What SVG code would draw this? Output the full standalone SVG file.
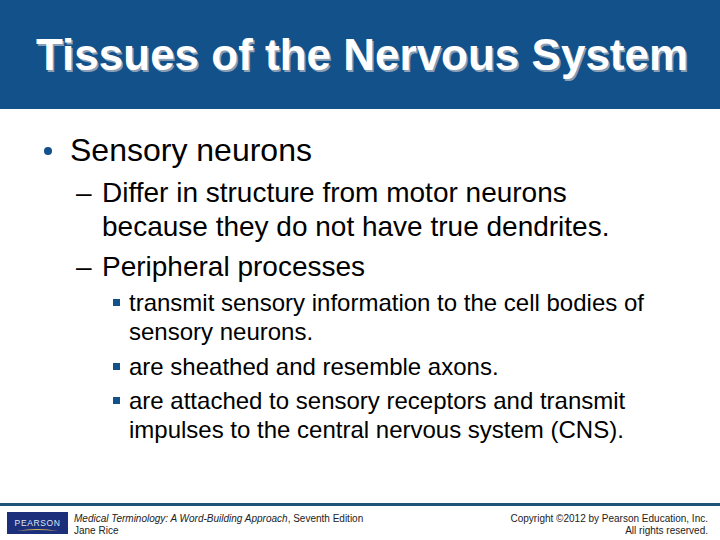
<svg xmlns="http://www.w3.org/2000/svg" width="720" height="540" viewBox="0 0 720 540">
<style>
text{font-family:"Liberation Sans",Arial,sans-serif;fill:#000}
.t{font-size:44px;font-weight:bold}
.l1{font-size:32px}
.l2{font-size:28px}
.l3{font-size:24px}
.f{font-size:10px;fill:#222}
.b{fill:#13518a}
</style>
<rect width="720" height="540" fill="#fff"/>
<rect width="720" height="109" fill="#13518a"/>
<text class="t" x="37.500" y="71.500" style="fill:#8a9fb5">Tissues of the Nervous System</text>
<text class="t" x="36" y="70" style="fill:#fff">Tissues of the Nervous System</text>
<circle class="b" cx="48" cy="151" r="4"/>
<text class="l1" x="70" y="161">Sensory neurons</text>
<text class="l2" x="76" y="202">–</text>
<text class="l2" x="102" y="202">Differ in structure from motor neurons</text>
<text class="l2" x="102" y="236">because they do not have true dendrites.</text>
<text class="l2" x="76" y="276">–</text>
<text class="l2" x="102" y="276">Peripheral processes</text>
<rect class="b" x="113" y="299" width="7" height="7"/>
<text class="l3" x="129" y="311">transmit sensory information to the cell bodies of</text>
<text class="l3" x="129" y="340">sensory neurons.</text>
<rect class="b" x="113" y="363" width="7" height="7"/>
<text class="l3" x="129" y="375">are sheathed and resemble axons.</text>
<rect class="b" x="113" y="397" width="7" height="7"/>
<text class="l3" x="129" y="409">are attached to sensory receptors and transmit</text>
<text class="l3" x="129" y="438">impulses to the central nervous system (CNS).</text>
<rect x="0" y="503" width="720" height="3" fill="#1f5479"/>
<rect x="7" y="512" width="61" height="22" fill="#1c2f7a"/>
<text x="37.500" y="526" text-anchor="middle" style="font-family:'Liberation Sans',sans-serif;font-size:8.500px;fill:#dfe6f2;letter-spacing:.6px">PEARSON</text>
<path d="M17 531Q37 527 58 531Q37 529 17 531Z" fill="#d9b45a"/>
<text class="f" x="74" y="522"><tspan font-style="italic">Medical Terminology: A Word-Building Approach</tspan>, Seventh Edition</text>
<text class="f" x="74" y="534">Jane Rice</text>
<text class="f" x="708" y="522" text-anchor="end">Copyright ©2012 by Pearson Education, Inc.</text>
<text class="f" x="708" y="534" text-anchor="end">All rights reserved.</text>
</svg>
